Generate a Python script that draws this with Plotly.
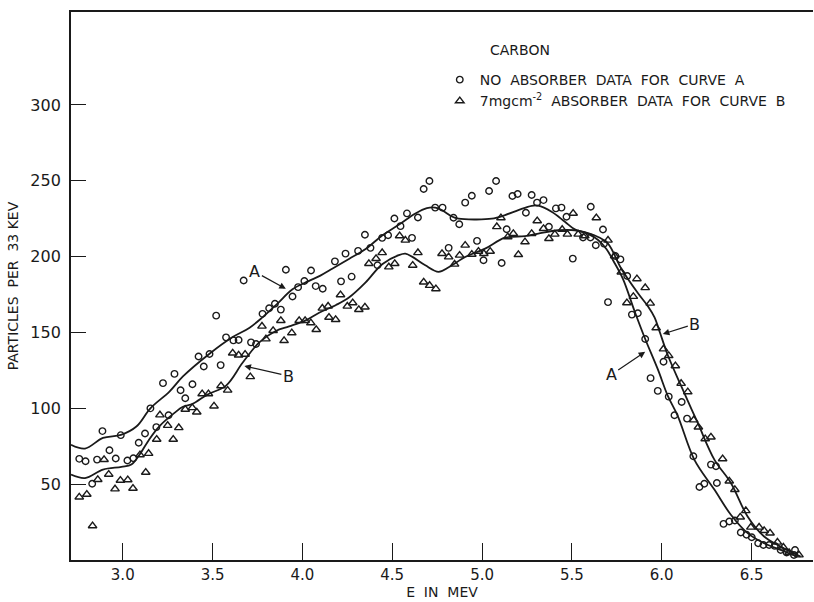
import plotly.graph_objects as go

# ---------------- data ----------------
# open circles: no absorber (data for curve A)
circ_e = [2.758, 2.793, 2.83, 2.857, 2.887, 2.926, 2.961, 2.989, 3.026, 3.059, 3.089, 3.124,
          3.154, 3.187, 3.224, 3.255, 3.288, 3.322, 3.348, 3.388, 3.422, 3.451, 3.483, 3.52,
          3.545, 3.575, 3.616, 3.645, 3.673, 3.714, 3.742, 3.778, 3.815, 3.847, 3.88, 3.908,
          3.945, 3.976, 4.011, 4.048, 4.074, 4.113, 4.181, 4.215, 4.24, 4.274, 4.31, 4.348,
          4.379, 4.418, 4.444, 4.477, 4.512, 4.546, 4.582, 4.61, 4.643, 4.675, 4.707, 4.739,
          4.78, 4.814, 4.841, 4.873, 4.906, 4.943, 4.972, 5.008, 5.039, 5.078, 5.109, 5.137,
          5.169, 5.198, 5.244, 5.276, 5.306, 5.342, 5.372, 5.411, 5.442, 5.47, 5.505, 5.562,
          5.603, 5.605, 5.633, 5.673, 5.679, 5.701, 5.742, 5.77, 5.808, 5.834, 5.867, 5.908,
          5.938, 5.978, 6.01, 6.039, 6.071, 6.111, 6.141, 6.176, 6.21, 6.237, 6.274, 6.302,
          6.307, 6.344, 6.376, 6.407, 6.44, 6.472, 6.501, 6.537, 6.566, 6.598, 6.629, 6.662,
          6.695, 6.736, 6.742]
circ_n = [66.7, 65.1, 50.3, 66.2, 85.0, 72.4, 66.9, 82.3, 65.6, 67.1, 77.3, 83.4,
          100.0, 87.6, 116.6, 95.4, 122.7, 111.9, 106.6, 115.9, 134.2, 127.6, 135.8, 161.1,
          128.5, 146.8, 144.8, 145.0, 184.3, 143.5, 142.4, 162.3, 166.0, 168.9, 165.1, 191.4,
          173.7, 179.9, 183.9, 190.9, 180.6, 178.8, 196.9, 183.7, 202.0, 186.8, 203.8, 214.4,
          205.8, 194.3, 212.4, 214.1, 225.2, 220.1, 228.5, 212.4, 225.8, 244.6, 249.9, 232.3,
          232.3, 205.8, 225.6, 221.4, 235.6, 240.2, 210.4, 197.6, 243.3, 249.9, 195.8, 218.1,
          240.0, 241.3, 228.9, 240.6, 235.6, 237.3, 219.7, 231.8, 232.3, 226.3, 198.7, 212.6,
          212.6, 232.9, 207.5, 217.9, 208.6, 170.0, 200.4, 198.2, 187.2, 161.8, 162.7, 145.7,
          119.9, 111.5, 130.7, 107.7, 95.4, 104.2, 93.2, 68.4, 48.1, 50.3, 62.9, 61.8,
          50.8, 23.8, 25.4, 26.0, 18.1, 16.6, 15.0, 11.0, 9.9, 9.9, 9.3, 6.6,
          4.9, 3.3, 6.6]

# open triangles: 7 mg/cm2 absorber (data for curve B)
tri_e = [2.758, 2.80, 2.832, 2.861, 2.896, 2.922, 2.957, 2.987, 3.028, 3.057, 3.096, 3.128,
         3.144, 3.189, 3.207, 3.25, 3.281, 3.312, 3.348, 3.387, 3.412, 3.442, 3.477, 3.508,
         3.547, 3.584, 3.612, 3.645, 3.681, 3.71, 3.775, 3.797, 3.837, 3.88, 3.898, 3.941,
         3.982, 4.015, 4.047, 4.077, 4.111, 4.143, 4.148, 4.185, 4.212, 4.25, 4.28, 4.314,
         4.348, 4.37, 4.41, 4.444, 4.481, 4.514, 4.541, 4.573, 4.614, 4.643, 4.675, 4.708,
         4.743, 4.777, 4.814, 4.847, 4.875, 4.906, 4.943, 4.98, 5.01, 5.045, 5.082, 5.105,
         5.143, 5.174, 5.202, 5.239, 5.276, 5.307, 5.342, 5.372, 5.405, 5.446, 5.475, 5.507,
         5.535, 5.572, 5.636, 5.701, 5.738, 5.775, 5.806, 5.842, 5.862, 5.908, 5.936, 5.969,
         6.01, 6.039, 6.076, 6.108, 6.145, 6.178, 6.204, 6.242, 6.274, 6.339, 6.376, 6.407,
         6.437, 6.468, 6.496, 6.542, 6.57, 6.603, 6.644, 6.677, 6.709, 6.764]
tri_n = [41.5, 43.3, 22.5, 53.0, 66.2, 56.5, 46.8, 52.5, 52.8, 47.2, 69.3, 57.8,
         70.2, 79.5, 95.6, 88.7, 79.5, 87.2, 99.3, 100.4, 97.5, 109.5, 109.5, 101.5,
         114.8, 111.9, 136.4, 135.1, 135.6, 120.8, 154.1, 145.7, 151.2, 157.8, 144.6, 149.7,
         157.8, 157.8, 156.3, 151.9, 166.0, 167.3, 160.0, 158.5, 174.8, 167.3, 169.5, 165.1,
         166.7, 195.4, 198.7, 202.6, 193.2, 195.4, 213.7, 210.8, 194.3, 202.6, 183.2, 181.0,
         178.8, 202.0, 199.8, 195.0, 200.9, 207.5, 201.5, 203.5, 202.0, 203.5, 219.7, 225.6,
         213.0, 215.2, 201.3, 209.7, 215.2, 223.6, 218.5, 211.9, 214.8, 217.9, 214.8, 228.5,
         214.8, 213.7, 225.6, 210.8, 200.4, 189.8, 169.5, 173.7, 185.4, 179.5, 169.3, 153.0,
         139.1, 134.7, 128.0, 116.4, 110.8, 92.3, 87.6, 79.9, 81.0, 66.7, 52.0, 46.4,
         28.3, 32.5, 21.6, 21.6, 19.4, 17.7, 11.7, 8.4, 4.9, 3.3]

# smooth curve A (no absorber)
curve_a_e = [2.712, 2.79, 2.89, 2.99, 3.076, 3.154, 3.26, 3.335, 3.483, 3.612, 3.704, 3.778,
             3.861, 3.945, 4.037, 4.10, 4.166, 4.259, 4.352, 4.444, 4.536, 4.629, 4.693, 4.74,
             4.776, 4.832, 4.869, 4.962, 5.054, 5.128, 5.202, 5.276, 5.313, 5.387, 5.461, 5.516,
             5.59, 5.646, 5.692, 5.729, 5.784, 5.849, 5.908, 5.978, 6.034, 6.089, 6.182, 6.293,
             6.385, 6.478, 6.57, 6.662, 6.755]
curve_a_n = [76.0, 73.5, 80.5, 82.5, 88.0, 100.0, 111.0, 121.0, 136.0, 147.0, 153.0, 160.0,
             169.0, 178.5, 184.0, 187.5, 192.0, 198.5, 205.0, 214.0, 221.0, 228.5, 232.0, 232.3,
             230.7, 226.5, 225.0, 224.5, 225.0, 227.4, 230.7, 233.5, 233.6, 229.6, 223.0, 218.0,
             215.0, 211.0, 205.0, 197.6, 185.4, 164.0, 145.7, 125.8, 108.2, 95.0, 66.0, 46.4,
             29.8, 17.7, 11.0, 6.6, 2.2]

# smooth curve B (7 mg/cm2 absorber)
curve_b_e = [2.712, 2.79, 2.89, 2.993, 3.048, 3.094, 3.15, 3.205, 3.288, 3.335, 3.39, 3.47,
             3.575, 3.667, 3.76, 3.852, 3.926, 4.018, 4.093, 4.185, 4.259, 4.352, 4.444, 4.536,
             4.573, 4.61, 4.684, 4.758, 4.814, 4.906, 5.017, 5.128, 5.239, 5.313, 5.424, 5.516,
             5.59, 5.646, 5.701, 5.775, 5.867, 5.925, 5.96, 5.99, 6.034, 6.108, 6.2, 6.293,
             6.385, 6.478, 6.57, 6.662, 6.773]
curve_b_n = [56.3, 54.0, 59.6, 61.4, 62.9, 69.5, 80.0, 88.3, 97.0, 101.0, 103.0, 109.0,
             115.0, 130.0, 143.5, 151.0, 154.0, 158.0, 163.0, 168.0, 173.0, 183.0, 195.0, 201.0,
             202.0, 200.0, 194.3, 190.0, 193.0, 199.8, 205.3, 212.5, 213.5, 215.2, 217.4, 217.4,
             215.5, 213.0, 208.6, 192.0, 176.0, 167.0, 160.0, 150.0, 135.0, 114.8, 90.5, 66.2,
             50.8, 28.7, 15.5, 8.8, 2.2]

x_ticks = [3.0, 3.5, 4.0, 4.5, 5.0, 5.5, 6.0, 6.5]
x_tick_labels = ["3.0", "3.5", "4.0", "4.5", "5.0", "5.5", "6.0", "6.5"]
y_ticks = [50, 100, 150, 200, 250, 300]
y_tick_labels = ["50", "100", "150", "200", "250", "300"]

# curve labels: text, (energy, count) of the arrow tip, label offset in px
curve_labels = [("A", 3.908, 178.8, -31, -17),
                ("B", 3.677, 127.9, 44, 10),
                ("A", 5.908, 137.3, -34, 23),
                ("B", 6.006, 149.0, 32, -10)]

# ---------------- figure ----------------
INK = "#1a1a1a"
FONT = "DejaVu Sans"
NB = "\u00a0\u00a0"

fig = go.Figure()

fig.add_trace(go.Scatter(x=curve_a_e, y=curve_a_n, mode="lines",
                         line=dict(color=INK, width=1.8, shape="spline", smoothing=1.0),
                         showlegend=False, hoverinfo="skip"))
fig.add_trace(go.Scatter(x=curve_b_e, y=curve_b_n, mode="lines",
                         line=dict(color=INK, width=1.8, shape="spline", smoothing=1.0),
                         showlegend=False, hoverinfo="skip"))
fig.add_trace(go.Scatter(x=circ_e, y=circ_n, mode="markers",
                         name="NO" + NB + "ABSORBER" + NB + "DATA" + NB + "FOR" + NB + "CURVE" + NB + "A",
                         marker=dict(symbol="circle-open", size=6.5, color=INK, line=dict(width=1.4))))
fig.add_trace(go.Scatter(x=tri_e, y=tri_n, mode="markers",
                         name="7mgcm<sup>-2</sup>" + NB + "ABSORBER" + NB + "DATA" + NB + "FOR" + NB + "CURVE" + NB + "B",
                         marker=dict(symbol="triangle-up-open", size=7.5, color=INK, line=dict(width=1.4))))

annotations = [dict(text="CARBON", x=0.605, y=0.93, xref="paper", yref="paper",
                    showarrow=False, font=dict(family=FONT, size=14, color=INK),
                    xanchor="center", yanchor="middle")]
for txt, e, n, axo, ayo in curve_labels:
    annotations.append(dict(text=txt, x=e, y=n, xref="x", yref="y", ax=axo, ay=ayo,
                            showarrow=True, arrowhead=2, arrowsize=1.1, arrowwidth=1.2,
                            arrowcolor=INK, font=dict(family=FONT, size=16, color=INK)))

fig.update_layout(
    width=814, height=602,
    margin=dict(l=71, r=1, t=12, b=42),
    paper_bgcolor="white", plot_bgcolor="white",
    font=dict(family=FONT, color=INK, size=14),
    legend=dict(x=0.497, y=0.905, xanchor="left", yanchor="top",
                bgcolor="rgba(0,0,0,0)", font=dict(family=FONT, size=14, color=INK),
                itemwidth=30, tracegroupgap=0),
    annotations=annotations,
    xaxis=dict(range=[2.712, 6.842], tickvals=x_ticks, ticktext=x_tick_labels,
               ticks="inside", ticklen=17, tickwidth=1.4, tickcolor=INK,
               showline=True, linecolor=INK, linewidth=1.8, mirror=True,
               showgrid=False, zeroline=False, automargin=False,
               tickfont=dict(family=FONT, size=15, color=INK),
               title=dict(text="E" + NB + "IN" + NB + "MEV", standoff=1,
                          font=dict(family=FONT, size=14, color=INK))),
    yaxis=dict(range=[0, 361.3], tickvals=y_ticks, ticktext=y_tick_labels,
               ticks="inside", ticklen=15, tickwidth=1.4, tickcolor=INK,
               showline=True, linecolor=INK, linewidth=1.8, mirror=False,
               showgrid=False, zeroline=False, automargin=False,
               ticklabelstandoff=5,
               tickfont=dict(family=FONT, size=16, color=INK),
               title=dict(text="PARTICLES" + NB + "PER" + NB + "33" + "\u00a0" + "KEV", standoff=8,
                          font=dict(family=FONT, size=14, color=INK))),
)

fig.write_html("out.html")
